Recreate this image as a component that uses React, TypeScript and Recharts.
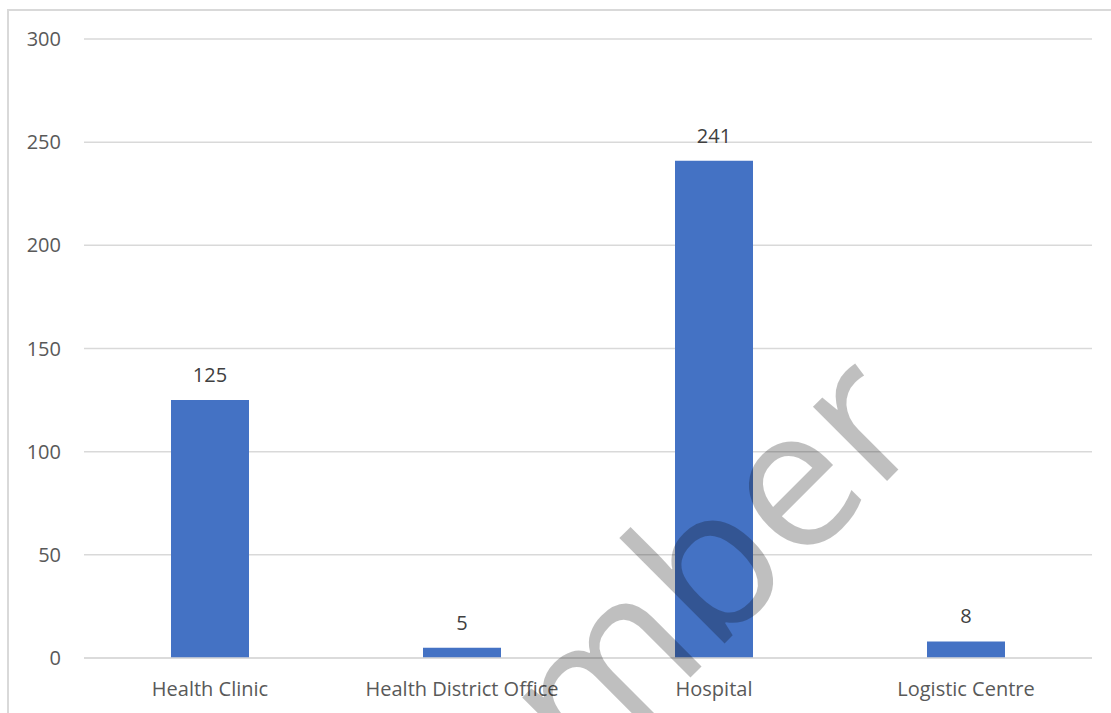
import { BarChart, Bar, XAxis, YAxis, CartesianGrid, LabelList } from "recharts"

const categories = ["Health Clinic", "Health District Office", "Hospital", "Logistic Centre"]
const counts = [125, 5, 241, 8]
const yTicks = [0, 50, 100, 150, 200, 250, 300]
const watermark = "Number"

const data = categories.map((name, i) => ({ name, count: counts[i] }))

const font = "'Open Sans', sans-serif"

export default function App() {
    return (
        <div style={{ position: "absolute", left: 0, top: 0, width: 1111, height: 713, overflow: "hidden", background: "#fff" }}>
            <div
                style={{
                    position: "absolute",
                    left: 7,
                    top: 9,
                    width: 1102,
                    height: 702,
                    borderLeft: "2px solid #d9d9d9",
                    borderTop: "2px solid #d9d9d9"
                }}
            />
            <div style={{ position: "absolute", left: 0, top: 0 }}>
                <BarChart
                    width={1111}
                    height={713}
                    data={data}
                    margin={{ top: 39, right: 19, bottom: 0, left: 0 }}
                    barSize={78}
                >
                    <CartesianGrid vertical={false} stroke="#d9d9d9" strokeWidth={1.5} />
                    <XAxis
                        dataKey="name"
                        height={55}
                        tickLine={false}
                        axisLine={{ stroke: "#d9d9d9", strokeWidth: 1.5 }}
                        tickMargin={18}
                        tick={{ fontSize: 20, fill: "#595959", fontFamily: font }}
                        interval={0}
                    />
                    <YAxis
                        width={84}
                        domain={[0, 300]}
                        ticks={yTicks}
                        axisLine={false}
                        tickLine={false}
                        tickMargin={17}
                        tick={{ fontSize: 20, fill: "#595959", fontFamily: font }}
                    />
                    <Bar dataKey="count" fill="#4472C4" isAnimationActive={false}>
                        <LabelList
                            dataKey="count"
                            position="top"
                            offset={18}
                            style={{ fontSize: 20, fill: "#404040", fontFamily: font }}
                        />
                    </Bar>
                </BarChart>
            </div>
            <svg
                width={1111}
                height={713}
                style={{ position: "absolute", left: 0, top: 0, pointerEvents: "none" }}
            >
                <text
                    x={932}
                    y={436}
                    textAnchor="end"
                    transform="rotate(-45 932 436)"
                    fontFamily={font}
                    fontSize={196}
                    fill="#000"
                    fillOpacity={0.25}
                >
                    {watermark}
                </text>
            </svg>
        </div>
    )
}
